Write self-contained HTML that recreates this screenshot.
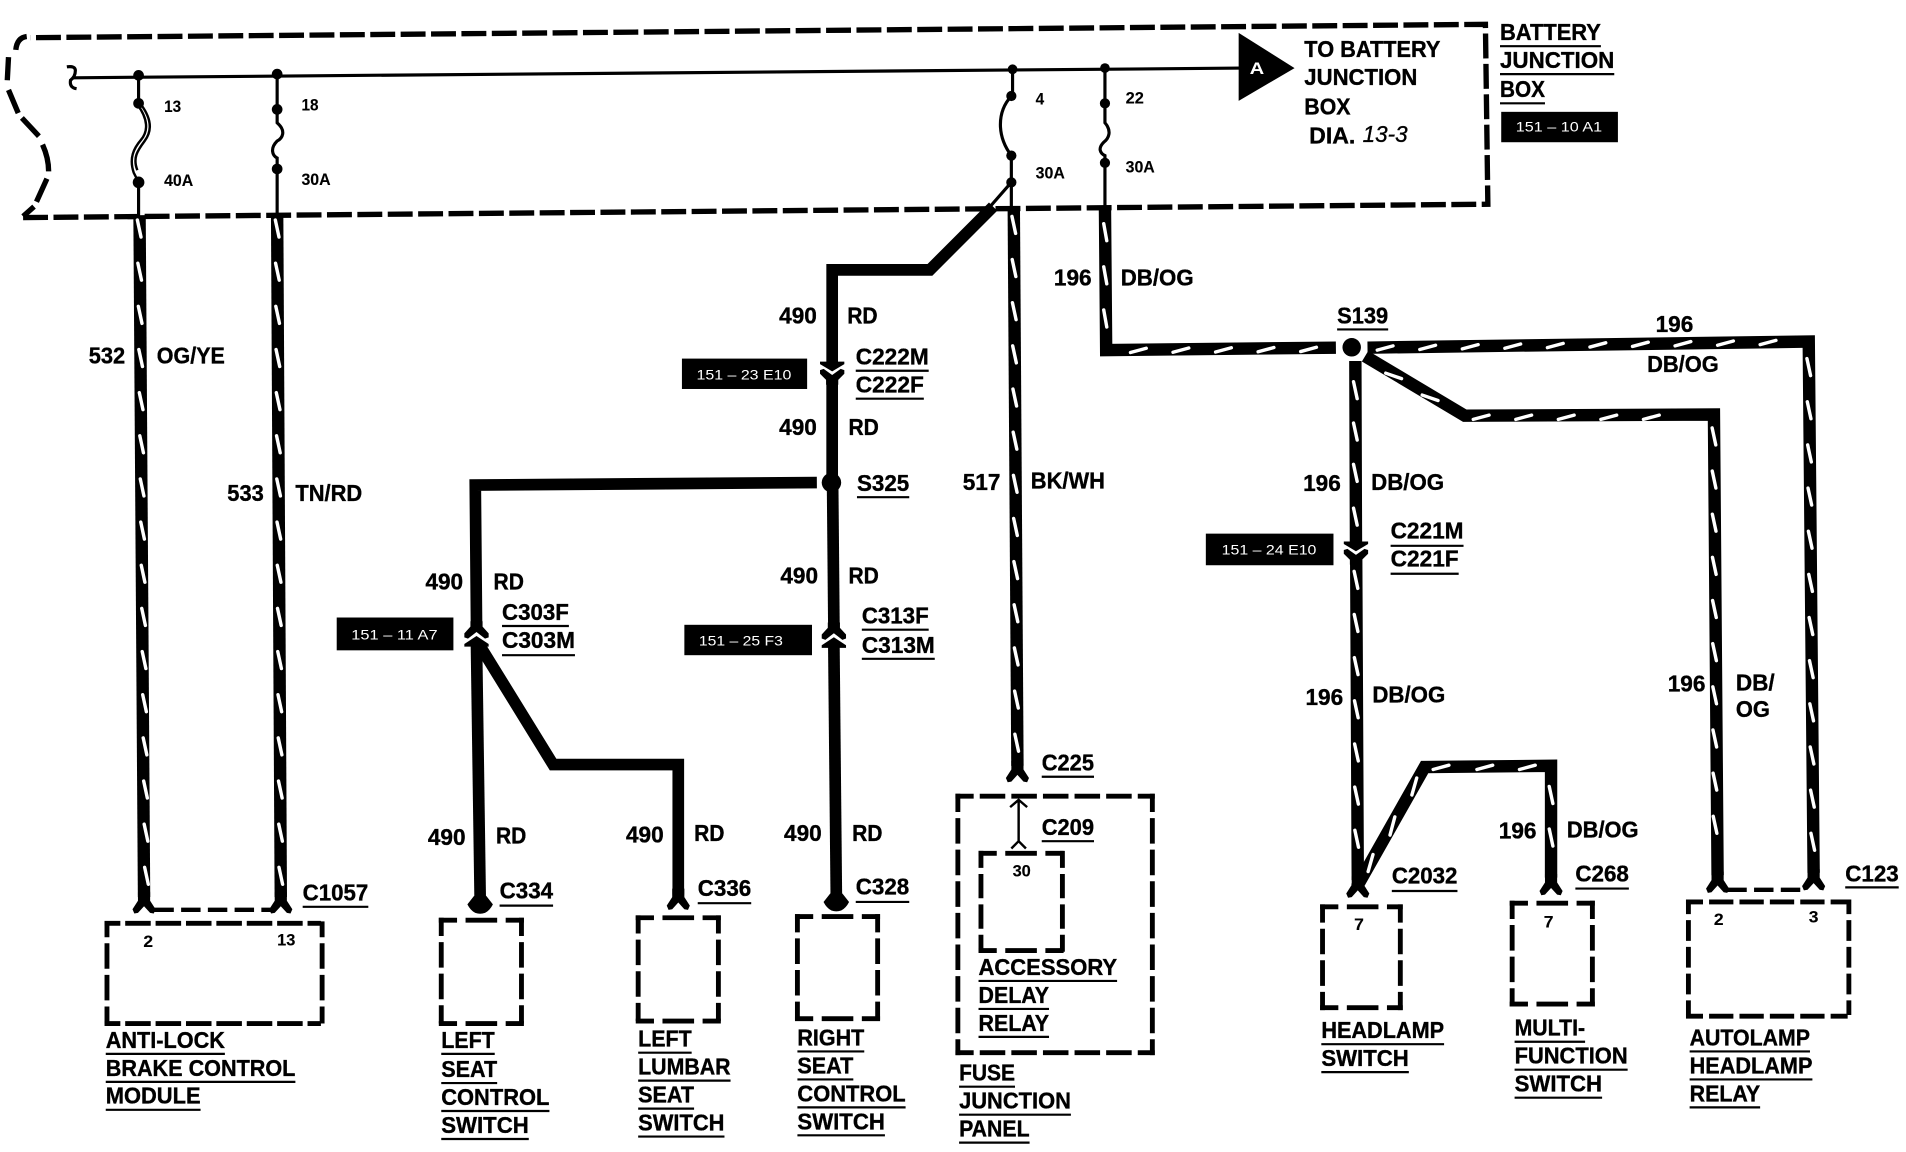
<!DOCTYPE html>
<html><head><meta charset="utf-8"><style>
html,body{margin:0;padding:0;background:#fff;width:1906px;height:1152px;overflow:hidden}
svg{display:block}
text{font-family:"Liberation Sans",sans-serif;font-weight:bold;fill:#000;font-size:19px;stroke:#000;stroke-width:.3}
.s{font-size:13.5px;stroke-width:.1}
.w{fill:#fff;stroke:none;font-size:11.5px;font-weight:normal}
.wire{fill:none;stroke:#000;stroke-width:10.2;stroke-linejoin:miter}
.red{fill:none;stroke:#000;stroke-width:9.6;stroke-linejoin:miter}
.tk{fill:none;stroke:#fff;stroke-width:2.8;stroke-linecap:round}
.bx{fill:none;stroke:#000;stroke-width:4}
.thin{fill:none;stroke:#000;stroke-width:2.6}
.ul{fill:none;stroke:#000;stroke-width:1.8}
</style></head><body>
<svg xmlns="http://www.w3.org/2000/svg" width="1906" height="1152" viewBox="0 0 1568 947.7">
<defs>
<g id="conn"><polygon points="-10,0 10,0 10,2 0,8 -10,2"/><polygon points="-10,7 -7,6 0,11 7,6 10,7 10,10 5,15 5,19 -5,19 -5,15 -10,10"/></g>
<g id="fork"><polygon points="-5,-16 5,-16 5,-9 9.5,-2 8,1.5 5,1 0,-4.5 -5,1 -8,1.5 -9.5,-2 -5,-9"/></g>
<g id="tip"><path d="M-5,-13 L-10.5,-6 Q-8,-1 -4,1 Q0,2.5 4,1 Q8,-1 10.5,-6 L5,-13Z"/></g>
</defs>
<rect width="1568" height="948" fill="#fff"/>
<!-- outer dashed border -->
<path d="M19,179 L1224,168 L1222,20 L25,31" fill="none" stroke="#000" stroke-width="4.4" stroke-dasharray="20.5 4.5"/>
<path d="M22,30 Q14,31 13,41 M7,47 L6,66 M7,74 L15,93 M18,97 L32,112 M35,119 Q40,130 40,141 M38.6,147 L30,166 M28,170 L19,178" fill="none" stroke="#000" stroke-width="4.4"/>
<!-- bus -->
<path class="thin" d="M60,64 L1022,56"/>
<path class="thin" d="M55,55 Q62,54 62,58 Q62,63 58,66 Q57,72 63,73"/>
<polygon points="1019,27 1065,56 1019,83"/>
<text x="1028" y="61" style="fill:#fff;stroke:none;font-size:14px" textLength="12" lengthAdjust="spacingAndGlyphs">A</text>
<!-- fuses -->
<path class="thin" d="M114,62 V85 M114,150 V178 M228,61 V90 M228,139 V178 M833,57 V79 M832,128 V172 M909,56 V85 M909,134 V172 M832,150 L811,174"/>
<path d="M113,86 C122,98 122,108 116,115 C110,122 106,130 110,142 L114,150 M116,86 C125,98 125,108 119,116 C113,124 109,130 113,140" fill="none" stroke="#000" stroke-width="2"/>
<path class="thin" d="M228,90 V101 C236,108 232,114 228,116 C222,122 224,128 228,130 V139"/>
<path class="thin" d="M832,79 C820,92 820,112 832,128"/>
<path class="thin" d="M909,85 V101 C915,108 912,114 908,117 C903,122 905,126 909,128 V134"/>
<g fill="#000">
<circle cx="114" cy="62" r="4.4"/><circle cx="114" cy="85" r="4.4"/><circle cx="114" cy="150" r="4.8"/>
<circle cx="228" cy="61" r="4.4"/><circle cx="228" cy="90" r="4.4"/><circle cx="228" cy="139" r="4.4"/>
<circle cx="833" cy="57" r="4"/><circle cx="832" cy="79" r="4.2"/><circle cx="832" cy="128" r="4.2"/><circle cx="832" cy="150" r="4.2"/>
<circle cx="909" cy="56" r="4"/><circle cx="909" cy="85" r="4.2"/><circle cx="909" cy="134" r="4.2"/>
</g>
<!-- tagged wires -->
<path class="wire" d="M114.8,177 L118.5,738"/>
<path class="wire" d="M228,177 L231,738"/>
<path class="wire" d="M834,170 L837,630"/>
<path class="wire" d="M909,170 L910,288 L1099,286 M1125,286 L1488,281 L1492,718"/>
<path class="wire" d="M1115,297 L1115.5,446 M1115.7,460 L1117,724"/>
<path class="wire" d="M1123,293 L1205,342 L1410,341 L1413,720"/>
<path class="wire" d="M1116,730 L1172,631 L1276,630 L1276,722"/>
<!-- tracer ticks -->
<path class="tk" d="M113,181 l3,14 m-2.6,21.5 l3,14 m-2.6,21.5 l3,14 m-2.6,21.5 l3,14 m-2.6,21.5 l3,14 m-2.6,21.5 l3,14 m-2.6,21.5 l3,14 m-2.6,21.5 l3,14 m-2.6,21.5 l3,14 m-2.6,21.5 l3,14 m-2.6,21.5 l3,14 m-2.6,21.5 l3,14 m-2.6,21.5 l3,14 m-2.6,21.5 l3,14 m-2.6,21.5 l3,14 m-2.6,21.5 l3,14"/>
<path class="tk" d="M226.5,181 l3,14 m-2.8,21.5 l3,14 m-2.8,21.5 l3,14 m-2.8,21.5 l3,14 m-2.8,21.5 l3,14 m-2.8,21.5 l3,14 m-2.8,21.5 l3,14 m-2.8,21.5 l3,14 m-2.8,21.5 l3,14 m-2.8,21.5 l3,14 m-2.8,21.5 l3,14 m-2.8,21.5 l3,14 m-2.8,21.5 l3,14 m-2.8,21.5 l3,14 m-2.8,21.5 l3,14 m-2.8,21.5 l3,14"/>
<path class="tk" d="M832.5,178 l3,14 m-2.8,21.5 l3,14 m-2.8,21.5 l3,14 m-2.8,21.5 l3,14 m-2.8,21.5 l3,14 m-2.8,21.5 l3,14 m-2.8,21.5 l3,14 m-2.8,21.5 l3,14 m-2.8,21.5 l3,14 m-2.8,21.5 l3,14 m-2.8,21.5 l3,14 m-2.8,21.5 l3,14 m-2.8,21.5 l3,14"/>
<path class="tk" d="M908,184 l2.5,14 m-2.5,21.5 l2.5,14 m-2.5,21.5 l2.5,14"/>
<path class="tk" d="M930,290 l13,-3.5 m22,3.3 l13,-3.5 m22,3.3 l13,-3.5 m22,3.3 l13,-3.5 m22,3.3 l13,-3.5"/>
<path class="tk" d="M1133,288 l13,-3.5 m22,3 l13,-3.5 m22,3 l13,-3.5 m22,3 l13,-3.5 m22,3 l13,-3.5 m22,3 l13,-3.5 m22,3 l13,-3.5 m22,3 l13,-3.5 m22,3 l13,-3.5 m22,3 l13,-3.5"/>
<path class="tk" d="M1486.5,295 l3,14 m-2.7,21.5 l3,14 m-2.7,21.5 l3,14 m-2.7,21.5 l3,14 m-2.7,21.5 l3,14 m-2.7,21.5 l3,14 m-2.7,21.5 l3,14 m-2.7,21.5 l3,14 m-2.7,21.5 l3,14 m-2.7,21.5 l3,14 m-2.7,21.5 l3,14 m-2.7,21.5 l3,14"/>
<path class="tk" d="M1113.5,314 l3,14 m-3,20 l3,14 m-3,20 l3,14 m-3,22 l3,14 M1114,470 l3,14 m-2.9,21.5 l3,14 m-2.9,21.5 l3,14 m-2.9,21.5 l3,14 m-2.9,21.5 l3,14 m-2.9,21.5 l3,14 m-2.9,21.5 l3,14"/>
<path class="tk" d="M1140,307 l13,4.5 M1170,325 l13,4.5"/>
<path class="tk" d="M1212,345 l13,-3.5 m22,3.5 l13,-3.5 m22,3.5 l13,-3.5 m22,3.5 l13,-3.5 m22,3.5 l13,-3.5"/>
<path class="tk" d="M1408.5,352 l3,14 m-2.9,21.5 l3,14 m-2.9,21.5 l3,14 m-2.9,21.5 l3,14 m-2.9,21.5 l3,14 m-2.9,21.5 l3,14 m-2.9,21.5 l3,14 m-2.9,21.5 l3,14 m-2.9,21.5 l3,14 m-2.9,21.5 l3,14"/>
<path class="tk" d="M1125.5,717 l4,-14 M1143.5,687 l4,-15 M1161.5,654 l4,-14 M1179,633 l13,-3.5 M1215,633 l13,-3.5 M1250,633 l13,-3.5"/>
<path class="tk" d="M1274.5,647 l3,14 m-3,21 l3,14"/>
<!-- red wires -->
<path class="red" d="M817,170 L765,222 L684.6,222 L684.6,298"/>
<path class="red" d="M684.6,312 V392"/>
<path class="red" d="M685,402 L686,513"/>
<path class="red" d="M672,397 L391,399 L392,512"/>
<path class="red" d="M392,531 L395,738"/>
<path class="red" d="M394,530 L455,629 L558,629 L558,736"/>
<path class="red" d="M686,532 L688,736"/>
<circle cx="684" cy="397" r="8"/>
<circle cx="1112" cy="285.7" r="9.5" fill="#fff"/>
<circle cx="1112" cy="285.7" r="7.6"/>
<!-- connector glyphs -->
<use href="#conn" transform="translate(684.6,297.5)"/>
<use href="#conn" transform="translate(1115.5,445.5)"/>
<use href="#conn" transform="translate(392,532) scale(1,-1.1)"/>
<use href="#conn" transform="translate(686,533) scale(1,-1.1)"/>
<use href="#fork" transform="translate(118.5,750)"/>
<use href="#fork" transform="translate(231,750)"/>
<use href="#fork" transform="translate(558,747)"/>
<use href="#fork" transform="translate(837,642)"/>
<use href="#fork" transform="translate(1117,737)"/>
<use href="#fork" transform="translate(1276,735)"/>
<use href="#fork" transform="translate(1413,733)"/>
<use href="#fork" transform="translate(1492,731)"/>
<use href="#tip" transform="translate(395,750)"/>
<use href="#tip" transform="translate(688,748)"/>
<path d="M831,664 L838,658 L845,664 M838,658 V692 M832,698 L838,692 L844,698" fill="none" stroke="#000" stroke-width="2"/>
<path d="M127,748.5 H225 M1421,732 H1484" fill="none" stroke="#000" stroke-width="3.6" stroke-dasharray="16 6"/>
<!-- component boxes: horizontal / vertical sides -->
<g class="bx">
<path stroke-dasharray="13 4 21 4 21 4 21 4 21 4 21 4 21 4 11" d="M86,759.6 H267 M86,842 H267"/>
<path stroke-dasharray="13 5 21 5 21 5 14" d="M88,758 V844 M265,758 V844"/>
<path stroke-dasharray="15 7 26 7 15" d="M361,757 H431 M361,842 H431 M523,755 H593 M523,840 H593 M654,754 H724 M654,838 H724 M805,702 H876 M805,782 H876 M1086,746 H1154 M1086,829 H1154 M1242,743 H1312 M1242,826 H1312"/>
<path stroke-dasharray="15 5 21 5 21 5 15" d="M363,755 V844 M429,755 V844 M525,753 V842 M591,753 V842 M656,752 V840 M722,752 V840 M1088,744 V831 M1152,744 V831 M1244,741 V828 M1310,741 V828"/>
<path stroke-dasharray="14 5 20 5 20 5 14" d="M807,700 V784 M874,700 V784"/>
<path stroke-dasharray="15 5 21 5 21 5 21 5 21 5 21 5 15" d="M786,655 H950 M786,866 H950"/>
<path stroke-dasharray="15 5 21 5 21 5 21 5 21 5 21 5 21 5 21 5 15" d="M788,653 V868 M948,653 V868"/>
<path stroke-dasharray="14 5 20 5 20 5 20 5 20 5 14" d="M1387,742 H1523 M1387,836 H1523"/>
<path stroke-dasharray="12 5 17 5 17 5 17 5 12" d="M1389,740 V838 M1521,740 V838"/>
</g>
<!-- black location tags -->
<g fill="#000">
<rect x="1235" y="92" width="96" height="25"/>
<rect x="561" y="295" width="103" height="25"/>
<rect x="992" y="439" width="105" height="26"/>
<rect x="277" y="508" width="96" height="27"/>
<rect x="563" y="514" width="105" height="25"/>
</g>
<g>
<text class="w" x="1247" y="108" textLength="71" lengthAdjust="spacingAndGlyphs">151 – 10 A1</text>
<text class="w" x="573" y="312" textLength="78" lengthAdjust="spacingAndGlyphs">151 – 23 E10</text>
<text class="w" x="1005" y="456" textLength="78" lengthAdjust="spacingAndGlyphs">151 – 24 E10</text>
<text class="w" x="289" y="526" textLength="71" lengthAdjust="spacingAndGlyphs">151 – 11 A7</text>
<text class="w" x="575" y="531" textLength="69" lengthAdjust="spacingAndGlyphs">151 – 25 F3</text>
</g>
<!-- small labels -->
<g>
<text class="s" x="135" y="92" textLength="14" lengthAdjust="spacingAndGlyphs">13</text>
<text class="s" x="135" y="153" textLength="24" lengthAdjust="spacingAndGlyphs">40A</text>
<text class="s" x="248" y="91" textLength="14" lengthAdjust="spacingAndGlyphs">18</text>
<text class="s" x="248" y="152" textLength="24" lengthAdjust="spacingAndGlyphs">30A</text>
<text class="s" x="852" y="86" textLength="7" lengthAdjust="spacingAndGlyphs">4</text>
<text class="s" x="852" y="147" textLength="24" lengthAdjust="spacingAndGlyphs">30A</text>
<text class="s" x="926" y="85" textLength="15" lengthAdjust="spacingAndGlyphs">22</text>
<text class="s" x="926" y="142" textLength="24" lengthAdjust="spacingAndGlyphs">30A</text>
<text class="s" x="118" y="779" textLength="8" lengthAdjust="spacingAndGlyphs">2</text>
<text class="s" x="228" y="778" textLength="15" lengthAdjust="spacingAndGlyphs">13</text>
<text class="s" x="833" y="721" textLength="15" lengthAdjust="spacingAndGlyphs">30</text>
<text class="s" x="1114" y="765" textLength="8" lengthAdjust="spacingAndGlyphs">7</text>
<text class="s" x="1270" y="763" textLength="8" lengthAdjust="spacingAndGlyphs">7</text>
<text class="s" x="1410" y="761" textLength="8" lengthAdjust="spacingAndGlyphs">2</text>
<text class="s" x="1488" y="759" textLength="8" lengthAdjust="spacingAndGlyphs">3</text>
</g>
<!-- main labels -->
<g>
<text x="1234" y="33" textLength="83" lengthAdjust="spacingAndGlyphs">BATTERY</text>
<text x="1234" y="56" textLength="94" lengthAdjust="spacingAndGlyphs">JUNCTION</text>
<text x="1234" y="80" textLength="37" lengthAdjust="spacingAndGlyphs">BOX</text>
<text x="1073" y="47" textLength="112" lengthAdjust="spacingAndGlyphs">TO BATTERY</text>
<text x="1073" y="70" textLength="93" lengthAdjust="spacingAndGlyphs">JUNCTION</text>
<text x="1073" y="94" textLength="38" lengthAdjust="spacingAndGlyphs">BOX</text>
<text x="1077" y="118" textLength="38" lengthAdjust="spacingAndGlyphs">DIA.</text>
<text x="1121" y="117" textLength="37" lengthAdjust="spacingAndGlyphs" style="font-style:italic;font-weight:normal">13-3</text>

<text x="73" y="299" textLength="30" lengthAdjust="spacingAndGlyphs">532</text>
<text x="129" y="299" textLength="56" lengthAdjust="spacingAndGlyphs">OG/YE</text>
<text x="187" y="412" textLength="30" lengthAdjust="spacingAndGlyphs">533</text>
<text x="243" y="412" textLength="55" lengthAdjust="spacingAndGlyphs">TN/RD</text>
<text x="641" y="266" textLength="31" lengthAdjust="spacingAndGlyphs">490</text>
<text x="697" y="266" textLength="25" lengthAdjust="spacingAndGlyphs">RD</text>
<text x="704" y="300" textLength="60" lengthAdjust="spacingAndGlyphs">C222M</text>
<text x="704" y="323" textLength="56" lengthAdjust="spacingAndGlyphs">C222F</text>
<text x="641" y="358" textLength="31" lengthAdjust="spacingAndGlyphs">490</text>
<text x="698" y="358" textLength="25" lengthAdjust="spacingAndGlyphs">RD</text>
<text x="705" y="404" textLength="43" lengthAdjust="spacingAndGlyphs">S325</text>
<text x="350" y="485" textLength="31" lengthAdjust="spacingAndGlyphs">490</text>
<text x="406" y="485" textLength="25" lengthAdjust="spacingAndGlyphs">RD</text>
<text x="413" y="510" textLength="55" lengthAdjust="spacingAndGlyphs">C303F</text>
<text x="413" y="533" textLength="60" lengthAdjust="spacingAndGlyphs">C303M</text>
<text x="642" y="480" textLength="31" lengthAdjust="spacingAndGlyphs">490</text>
<text x="698" y="480" textLength="25" lengthAdjust="spacingAndGlyphs">RD</text>
<text x="709" y="513" textLength="55" lengthAdjust="spacingAndGlyphs">C313F</text>
<text x="709" y="537" textLength="60" lengthAdjust="spacingAndGlyphs">C313M</text>
<text x="792" y="403" textLength="31" lengthAdjust="spacingAndGlyphs">517</text>
<text x="848" y="402" textLength="61" lengthAdjust="spacingAndGlyphs">BK/WH</text>
<text x="867" y="235" textLength="31" lengthAdjust="spacingAndGlyphs">196</text>
<text x="922" y="235" textLength="60" lengthAdjust="spacingAndGlyphs">DB/OG</text>
<text x="1100" y="266" textLength="42" lengthAdjust="spacingAndGlyphs">S139</text>
<text x="1362" y="273" textLength="31" lengthAdjust="spacingAndGlyphs">196</text>
<text x="1355" y="306" textLength="59" lengthAdjust="spacingAndGlyphs">DB/OG</text>
<text x="1072" y="404" textLength="31" lengthAdjust="spacingAndGlyphs">196</text>
<text x="1128" y="403" textLength="60" lengthAdjust="spacingAndGlyphs">DB/OG</text>
<text x="1144" y="443" textLength="60" lengthAdjust="spacingAndGlyphs">C221M</text>
<text x="1144" y="466" textLength="56" lengthAdjust="spacingAndGlyphs">C221F</text>
<text x="1074" y="580" textLength="31" lengthAdjust="spacingAndGlyphs">196</text>
<text x="1129" y="578" textLength="60" lengthAdjust="spacingAndGlyphs">DB/OG</text>
<text x="1372" y="569" textLength="31" lengthAdjust="spacingAndGlyphs">196</text>
<text x="1428" y="568" textLength="32" lengthAdjust="spacingAndGlyphs">DB/</text>
<text x="1428" y="590" textLength="28" lengthAdjust="spacingAndGlyphs">OG</text>
<text x="352" y="695" textLength="31" lengthAdjust="spacingAndGlyphs">490</text>
<text x="408" y="694" textLength="25" lengthAdjust="spacingAndGlyphs">RD</text>
<text x="515" y="693" textLength="31" lengthAdjust="spacingAndGlyphs">490</text>
<text x="571" y="692" textLength="25" lengthAdjust="spacingAndGlyphs">RD</text>
<text x="645" y="692" textLength="31" lengthAdjust="spacingAndGlyphs">490</text>
<text x="701" y="692" textLength="25" lengthAdjust="spacingAndGlyphs">RD</text>
<text x="1233" y="690" textLength="31" lengthAdjust="spacingAndGlyphs">196</text>
<text x="1289" y="689" textLength="59" lengthAdjust="spacingAndGlyphs">DB/OG</text>
<text x="857" y="634" textLength="43" lengthAdjust="spacingAndGlyphs">C225</text>
<text x="857" y="687" textLength="43" lengthAdjust="spacingAndGlyphs">C209</text>
<text x="249" y="741" textLength="54" lengthAdjust="spacingAndGlyphs">C1057</text>
<text x="411" y="739" textLength="44" lengthAdjust="spacingAndGlyphs">C334</text>
<text x="574" y="737" textLength="44" lengthAdjust="spacingAndGlyphs">C336</text>
<text x="704" y="736" textLength="44" lengthAdjust="spacingAndGlyphs">C328</text>
<text x="1145" y="727" textLength="54" lengthAdjust="spacingAndGlyphs">C2032</text>
<text x="1296" y="725" textLength="44" lengthAdjust="spacingAndGlyphs">C268</text>
<text x="1518" y="725" textLength="44" lengthAdjust="spacingAndGlyphs">C123</text>

<text x="87" y="862" textLength="98" lengthAdjust="spacingAndGlyphs">ANTI-LOCK</text>
<text x="87" y="885" textLength="156" lengthAdjust="spacingAndGlyphs">BRAKE CONTROL</text>
<text x="87" y="908" textLength="78" lengthAdjust="spacingAndGlyphs">MODULE</text>
<text x="363" y="862" textLength="44" lengthAdjust="spacingAndGlyphs">LEFT</text>
<text x="363" y="886" textLength="46" lengthAdjust="spacingAndGlyphs">SEAT</text>
<text x="363" y="909" textLength="89" lengthAdjust="spacingAndGlyphs">CONTROL</text>
<text x="363" y="932" textLength="72" lengthAdjust="spacingAndGlyphs">SWITCH</text>
<text x="525" y="861" textLength="44" lengthAdjust="spacingAndGlyphs">LEFT</text>
<text x="525" y="884" textLength="76" lengthAdjust="spacingAndGlyphs">LUMBAR</text>
<text x="525" y="907" textLength="46" lengthAdjust="spacingAndGlyphs">SEAT</text>
<text x="525" y="930" textLength="71" lengthAdjust="spacingAndGlyphs">SWITCH</text>
<text x="656" y="860" textLength="55" lengthAdjust="spacingAndGlyphs">RIGHT</text>
<text x="656" y="883" textLength="46" lengthAdjust="spacingAndGlyphs">SEAT</text>
<text x="656" y="906" textLength="89" lengthAdjust="spacingAndGlyphs">CONTROL</text>
<text x="656" y="929" textLength="72" lengthAdjust="spacingAndGlyphs">SWITCH</text>
<text x="805" y="802" textLength="114" lengthAdjust="spacingAndGlyphs">ACCESSORY</text>
<text x="805" y="825" textLength="58" lengthAdjust="spacingAndGlyphs">DELAY</text>
<text x="805" y="848" textLength="58" lengthAdjust="spacingAndGlyphs">RELAY</text>
<text x="789" y="889" textLength="46" lengthAdjust="spacingAndGlyphs">FUSE</text>
<text x="789" y="912" textLength="92" lengthAdjust="spacingAndGlyphs">JUNCTION</text>
<text x="789" y="935" textLength="58" lengthAdjust="spacingAndGlyphs">PANEL</text>
<text x="1087" y="854" textLength="101" lengthAdjust="spacingAndGlyphs">HEADLAMP</text>
<text x="1087" y="877" textLength="72" lengthAdjust="spacingAndGlyphs">SWITCH</text>
<text x="1246" y="852" textLength="58" lengthAdjust="spacingAndGlyphs">MULTI-</text>
<text x="1246" y="875" textLength="93" lengthAdjust="spacingAndGlyphs">FUNCTION</text>
<text x="1246" y="898" textLength="72" lengthAdjust="spacingAndGlyphs">SWITCH</text>
<text x="1390" y="860" textLength="99" lengthAdjust="spacingAndGlyphs">AUTOLAMP</text>
<text x="1390" y="883" textLength="101" lengthAdjust="spacingAndGlyphs">HEADLAMP</text>
<text x="1390" y="906" textLength="58" lengthAdjust="spacingAndGlyphs">RELAY</text>
</g>
<!-- underlines -->
<path class="ul" d="M1234,38 H1317 M1234,61 H1328 M1234,85 H1271
M704,305 H764 M704,328 H760 M705,409 H748 M413,515 H468 M413,539 H473 M709,518 H764 M709,542 H769
M1100,271 H1142 M1144,449 H1204 M1144,472 H1200
M857,639 H900 M857,692 H900 M249,746 H303 M411,745 H455 M574,743 H618 M704,742 H748 M1145,733 H1199 M1296,731 H1340 M1518,730 H1562
M87,867 H185 M87,890 H243 M87,913 H165
M363,867 H407 M363,891 H409 M363,914 H452 M363,937 H435
M525,866 H569 M525,889 H601 M525,912 H571 M525,935 H596
M656,865 H711 M656,888 H702 M656,911 H745 M656,934 H728
M805,807 H919 M805,830 H863 M805,853 H863
M789,894 H835 M789,917 H881 M789,940 H847
M1087,859 H1188 M1087,882 H1159
M1246,857 H1304 M1246,880 H1339 M1246,903 H1318
M1390,865 H1489 M1390,888 H1491 M1390,911 H1448"/>
</svg>
</body></html>
